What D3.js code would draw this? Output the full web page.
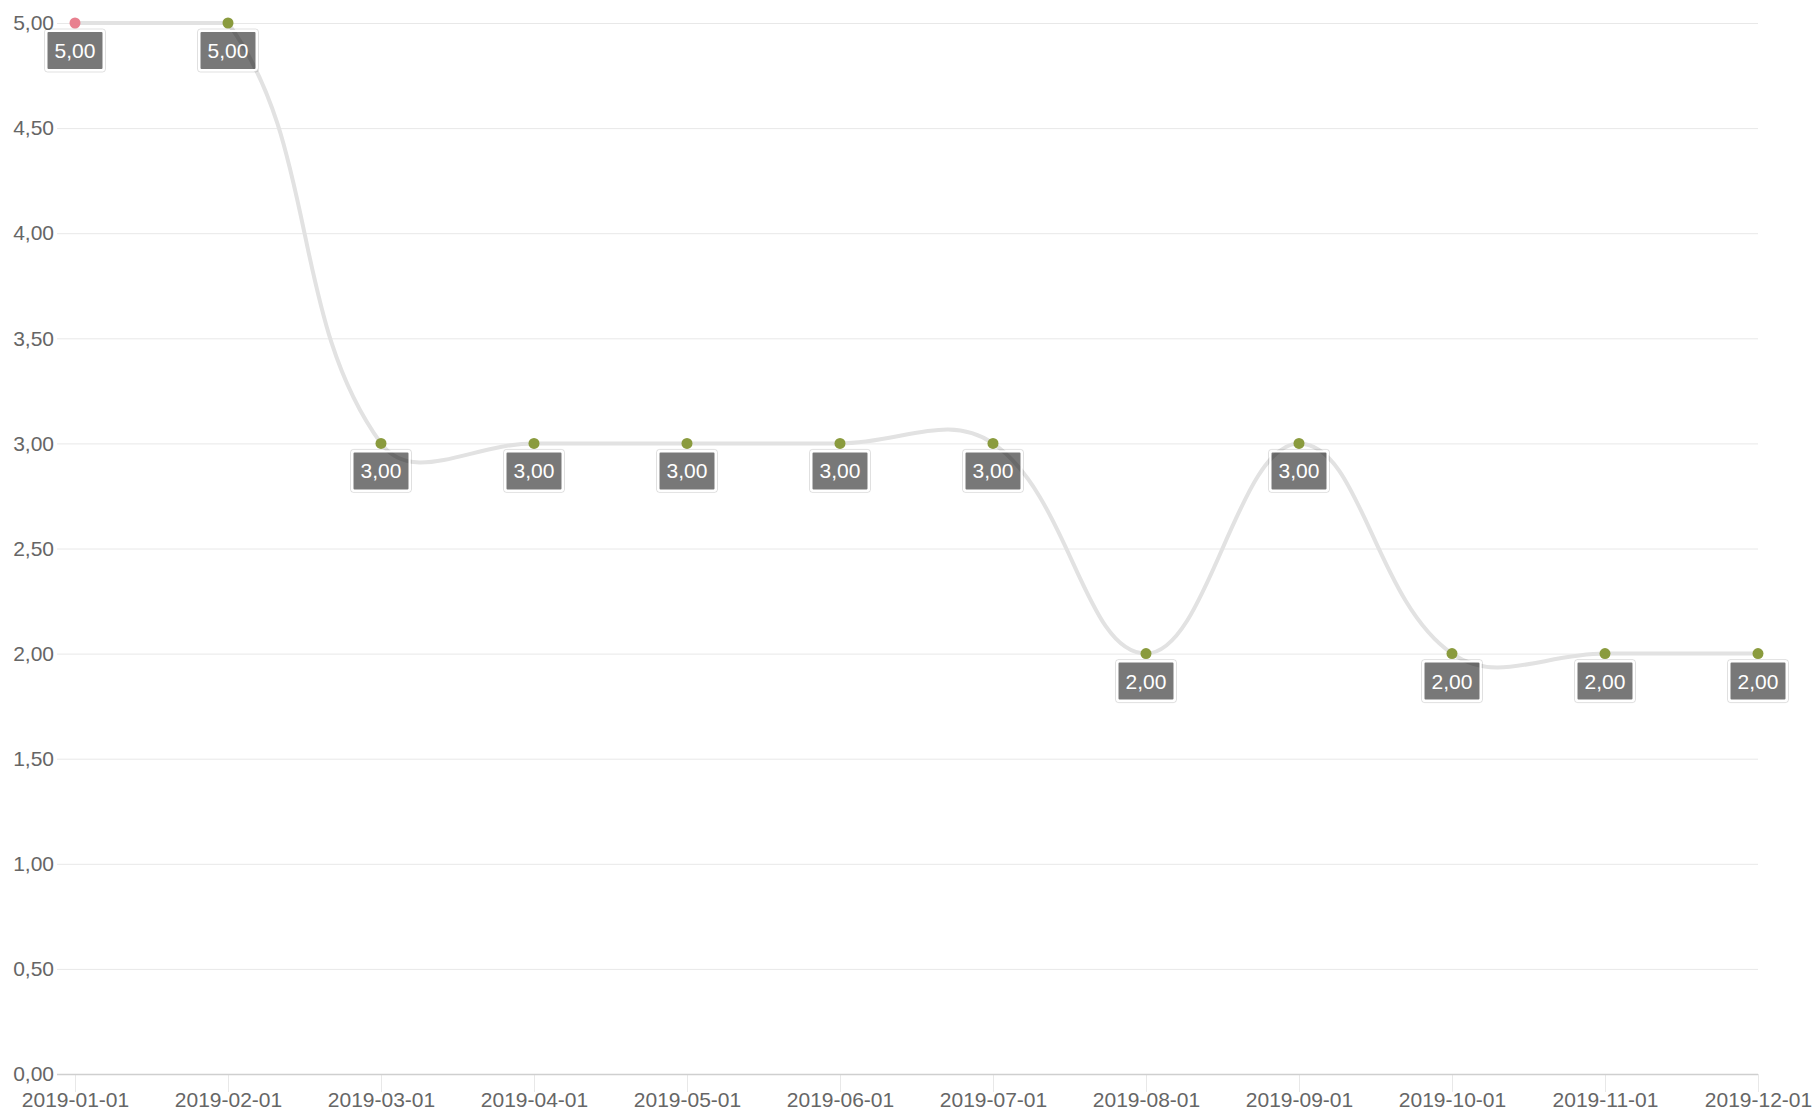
<!DOCTYPE html>
<html>
<head>
<meta charset="utf-8">
<script src="https://cdn.jsdelivr.net/npm/d3@7/dist/d3.min.js"></script>
<style>
  html, body { margin: 0; padding: 0; background: #fff; }
  svg { display: block; }
  text { font-family: "Liberation Sans", Arial, sans-serif; }
</style>
</head>
<body>
<svg id="chart" width="1818" height="1113"></svg>
<script>
// ---- data ----
const categories = ["2019-01-01","2019-02-01","2019-03-01","2019-04-01","2019-05-01","2019-06-01",
                    "2019-07-01","2019-08-01","2019-09-01","2019-10-01","2019-11-01","2019-12-01"];
const values = [5, 5, 3, 3, 3, 3, 3, 2, 3, 2, 2, 2];
const yTicks = [0, 0.5, 1, 1.5, 2, 2.5, 3, 3.5, 4, 4.5, 5];

// ---- layout ----
const pL = 75, pR = 1758, pT = 23, pB = 1074;

const svg = d3.select("#chart");
const locale = d3.formatLocale({decimal: ",", thousands: ".", grouping: [3], currency: ["", ""]});
const fmt = locale.format(".2f");

const x = d3.scalePoint().domain(categories).range([pL, pR]);
const y = d3.scaleLinear().domain([0, 5]).range([pB, pT]);

// grid (horizontal)
const gY = svg.append("g")
  .attr("transform", `translate(${pL},0)`)
  .call(d3.axisLeft(y).tickValues(yTicks).tickFormat(fmt)
        .tickSize(-(pR - pL)).tickSizeOuter(0).tickPadding(21));
gY.select(".domain").remove();
gY.selectAll(".tick line")
  .attr("x1", -18)
  .attr("stroke", (d) => d === 0 ? "#cfcfcf" : "#e8e8e8")
  .attr("stroke-width", (d) => d === 0 ? 1.5 : 1);
gY.selectAll(".tick text")
  .attr("x", -21)
  .attr("fill", "#666").attr("font-size", 21)
  .attr("font-family", "Liberation Sans, Arial, sans-serif");

// grid (vertical)
const gX = svg.append("g")
  .attr("transform", `translate(0,${pB})`)
  .call(d3.axisBottom(x).tickSize(-(pB - pT)).tickSizeOuter(0).tickPadding(18));
gX.select(".domain").remove();
gX.selectAll(".tick line")
  .attr("y2", 18)
  .attr("stroke", "#e8e8e8").attr("stroke-width", 1);
gX.selectAll(".tick text")
  .attr("y", 18)
  .attr("fill", "#666").attr("font-size", 21)
  .attr("font-family", "Liberation Sans, Arial, sans-serif");

gY.raise();

// ---- Chart.js style spline curve (tension 0.4, capped to chart area) ----
function chartCurve(context) {
  let pts = [];
  const t = 0.4;
  const clampX = (v) => Math.max(pL, Math.min(pR, v));
  const clampY = (v) => Math.max(pT, Math.min(pB, v));
  return {
    areaStart() {}, areaEnd() {},
    lineStart() { pts = []; },
    point(px, py) { pts.push({x: px, y: py}); },
    lineEnd() {
      const n = pts.length;
      if (!n) return;
      const cps = pts.map((cur, i) => {
        const prev = i > 0 ? pts[i - 1] : cur;
        const next = i < n - 1 ? pts[i + 1] : cur;
        const d01 = Math.hypot(cur.x - prev.x, cur.y - prev.y);
        const d12 = Math.hypot(next.x - cur.x, next.y - cur.y);
        let s01 = d01 / (d01 + d12), s12 = d12 / (d01 + d12);
        if (!isFinite(s01)) s01 = 0;
        if (!isFinite(s12)) s12 = 0;
        const fa = t * s01, fb = t * s12;
        return {
          px: clampX(cur.x - fa * (next.x - prev.x)), py: clampY(cur.y - fa * (next.y - prev.y)),
          nx: clampX(cur.x + fb * (next.x - prev.x)), ny: clampY(cur.y + fb * (next.y - prev.y))
        };
      });
      context.moveTo(pts[0].x, pts[0].y);
      for (let i = 1; i < n; i++) {
        context.bezierCurveTo(cps[i - 1].nx, cps[i - 1].ny, cps[i].px, cps[i].py, pts[i].x, pts[i].y);
      }
    }
  };
}

const data = categories.map((c, i) => ({c, v: values[i]}));

const line = d3.line()
  .x((d) => x(d.c))
  .y((d) => y(d.v))
  .curve(chartCurve);

svg.append("path")
  .datum(data)
  .attr("d", line)
  .attr("fill", "none")
  .attr("stroke", "#e2e2e2")
  .attr("stroke-width", 4);

// points
svg.append("g").selectAll("circle")
  .data(data).join("circle")
  .attr("cx", (d) => x(d.c))
  .attr("cy", (d) => y(d.v))
  .attr("r", 5.5)
  .attr("fill", (d, i) => i === 0 ? "#e8808f" : "#8a9b3e");

// data labels
const bw = 57, bh = 39, off = 8;
const lab = svg.append("g").selectAll("g")
  .data(data).join("g")
  .attr("transform", (d) => `translate(${x(d.c)},${y(d.v) + off})`);
lab.append("rect")
  .attr("x", -bw / 2 - 2).attr("y", -2)
  .attr("width", bw + 4).attr("height", bh + 4)
  .attr("rx", 3)
  .attr("fill", "none")
  .attr("stroke", "rgba(0,0,0,0.12)")
  .attr("stroke-width", 1);
lab.append("rect")
  .attr("x", -bw / 2).attr("y", 0)
  .attr("width", bw).attr("height", bh)
  .attr("rx", 2)
  .attr("fill", "rgba(0,0,0,0.53)")
  .attr("stroke", "#ffffff")
  .attr("stroke-width", 2);
lab.append("text")
  .attr("x", 0).attr("y", bh / 2)
  .attr("text-anchor", "middle")
  .attr("dominant-baseline", "central")
  .attr("fill", "#ffffff")
  .attr("font-size", 21)
  .text((d) => fmt(d.v));
</script>
</body>
</html>
